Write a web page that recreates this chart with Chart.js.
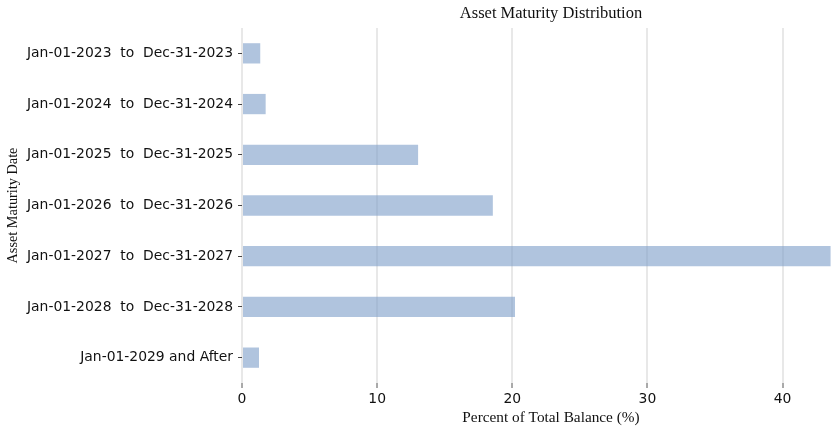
<!DOCTYPE html>
<html>
<head>
<meta charset="utf-8">
<script src="https://cdn.jsdelivr.net/npm/chart.js@4/dist/chart.umd.min.js"></script>
<style>
  html, body { margin: 0; padding: 0; overflow: hidden; background: #ffffff; }
  #wrap { width: 864px; height: 429px; }
</style>
</head>
<body>
<div id="wrap"><canvas id="c" width="864" height="429"></canvas></div>
<script>
const categories = [
  "Jan-01-2023  to  Dec-31-2023",
  "Jan-01-2024  to  Dec-31-2024",
  "Jan-01-2025  to  Dec-31-2025",
  "Jan-01-2026  to  Dec-31-2026",
  "Jan-01-2027  to  Dec-31-2027",
  "Jan-01-2028  to  Dec-31-2028",
  "Jan-01-2029 and After"
];
const percentValues = [1.35, 1.75, 13.03, 18.56, 43.55, 20.2, 1.26];
const xTickStep = 10;
const chartTitle = "Asset Maturity Distribution";
const xTitle = "Percent of Total Balance (%)";
const yTitle = "Asset Maturity Date";

const xMax = Math.max(...percentValues) * 1.05;

new Chart(document.getElementById('c'), {
  type: 'bar',
  data: {
    labels: categories,
    datasets: [{
      data: percentValues,
      backgroundColor: 'rgba(123,157,200,0.6)',
      borderWidth: 0,
      barPercentage: 0.4,
      categoryPercentage: 1.0
    }]
  },
  options: {
    indexAxis: 'y',
    responsive: false,
    animation: false,
    events: [],
    layout: { padding: { left: 0, right: 4, top: 0, bottom: 0 } },
    plugins: {
      legend: { display: false },
      tooltip: { enabled: false },
      title: {
        display: true,
        text: chartTitle,
        fullSize: false,
        color: '#111',
        font: { family: "'Liberation Serif', 'Times New Roman', serif", size: 16.5, weight: 'normal', lineHeight: 1.2 },
        padding: { top: 4, bottom: 4.2 }
      }
    },
    scales: {
      x: {
        type: 'linear',
        min: 0,
        max: xMax,
        border: { display: false },
        grid: {
          color: '#e8e8e8',
          lineWidth: 2,
          tickColor: '#555',
          tickLength: 5,
          tickWidth: 1,
          drawTicks: true
        },
        ticks: {
          stepSize: xTickStep,
          includeBounds: false,
          color: '#111',
          padding: 3,
          maxRotation: 0,
          font: { family: "'DejaVu Sans', sans-serif", size: 13.9 }
        },
        title: {
          display: true,
          text: xTitle,
          color: '#111',
          font: { family: "'Liberation Serif', 'Times New Roman', serif", size: 15.3, lineHeight: 1.2 },
          padding: { top: 0, bottom: 2 }
        },
        afterFit: (s) => { s.height = 46; }
      },
      y: {
        type: 'category',
        offset: true,
        border: { display: false },
        grid: {
          offset: false,
          drawOnChartArea: false,
          tickColor: '#444',
          tickLength: 4,
          tickWidth: 1,
          drawTicks: true
        },
        ticks: {
          color: '#111',
          padding: 5,
          font: { family: "'DejaVu Sans', sans-serif", size: 13.9 }
        },
        title: {
          display: true,
          text: yTitle,
          color: '#111',
          font: { family: "'Liberation Serif', 'Times New Roman', serif", size: 14.3, lineHeight: 1.2 },
          padding: { top: 4.4, bottom: 0 }
        },
        afterFit: (s) => { s.width = 242; }
      }
    }
  }
});
</script>
</body>
</html>
